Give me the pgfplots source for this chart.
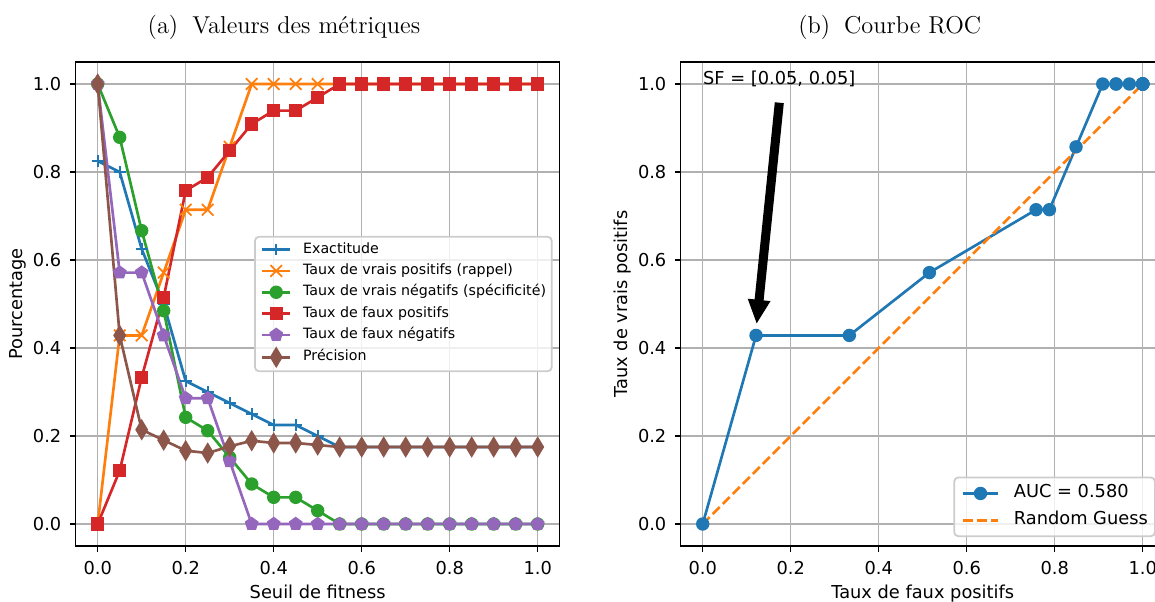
\documentclass[border=0pt]{standalone}
\usepackage{fontspec}
\usepackage{pgfplots}
\usepackage{pgfplotstable}
\pgfplotsset{compat=1.18}
\newfontfamily\djv{DejaVu Sans}
\definecolor{c1}{HTML}{1F77B4}
\definecolor{c2}{HTML}{FF7F0E}
\definecolor{c3}{HTML}{2CA02C}
\definecolor{c4}{HTML}{D62728}
\definecolor{c5}{HTML}{9467BD}
\definecolor{c6}{HTML}{8C564B}
\definecolor{gridc}{HTML}{B0B0B0}
\definecolor{legc}{HTML}{CCCCCC}
\newcommand{\tfont}{\djv\fontsize{8.9}{10.7}\selectfont}
\newcommand{\lfont}{\djv\fontsize{7.1}{8.5}\selectfont}

\pgfplotstableread{
x    acc   tpr    tnr    fpr    fnr    prec
0.00 0.825 0.0000 1.0000 0.0000 1.0000 1.0000
0.05 0.800 0.4286 0.8788 0.1212 0.5714 0.4286
0.10 0.625 0.4286 0.6667 0.3333 0.5714 0.2143
0.15 0.500 0.5714 0.4848 0.5152 0.4286 0.1905
0.20 0.325 0.7143 0.2424 0.7576 0.2857 0.1667
0.25 0.300 0.7143 0.2121 0.7879 0.2857 0.1613
0.30 0.275 0.8571 0.1515 0.8485 0.1429 0.1765
0.35 0.250 1.0000 0.0909 0.9091 0.0000 0.1892
0.40 0.225 1.0000 0.0606 0.9394 0.0000 0.1842
0.45 0.225 1.0000 0.0606 0.9394 0.0000 0.1842
0.50 0.200 1.0000 0.0303 0.9697 0.0000 0.1795
0.55 0.175 1.0000 0.0000 1.0000 0.0000 0.1750
0.60 0.175 1.0000 0.0000 1.0000 0.0000 0.1750
0.65 0.175 1.0000 0.0000 1.0000 0.0000 0.1750
0.70 0.175 1.0000 0.0000 1.0000 0.0000 0.1750
0.75 0.175 1.0000 0.0000 1.0000 0.0000 0.1750
0.80 0.175 1.0000 0.0000 1.0000 0.0000 0.1750
0.85 0.175 1.0000 0.0000 1.0000 0.0000 0.1750
0.90 0.175 1.0000 0.0000 1.0000 0.0000 0.1750
0.95 0.175 1.0000 0.0000 1.0000 0.0000 0.1750
1.00 0.175 1.0000 0.0000 1.0000 0.0000 0.1750
}\metrics

\pgfplotstableread{
fpr    tpr
0.0000 0.0000
0.1212 0.4286
0.3333 0.4286
0.5152 0.5714
0.7576 0.7143
0.7879 0.7143
0.8485 0.8571
0.9091 1.0000
0.9394 1.0000
0.9394 1.0000
0.9697 1.0000
1.0000 1.0000
1.0000 1.0000
1.0000 1.0000
1.0000 1.0000
1.0000 1.0000
1.0000 1.0000
1.0000 1.0000
1.0000 1.0000
1.0000 1.0000
1.0000 1.0000
}\roc

\pgfplotsset{
  base/.style={
    scale only axis, width=242pt, height=242pt,
    xmin=-0.05, xmax=1.05, ymin=-0.05, ymax=1.05,
    xtick={0,0.2,0.4,0.6,0.8,1}, ytick={0,0.2,0.4,0.6,0.8,1},
    xticklabels={0.0,0.2,0.4,0.6,0.8,1.0},
    yticklabels={0.0,0.2,0.4,0.6,0.8,1.0},
    tick pos=left, tick align=outside, major tick length=3.1pt,
    every tick/.style={black, line width=0.71pt},
    axis line style={line width=0.71pt},
    grid=major, major grid style={gridc, line width=0.71pt},
    ticklabel style={font=\tfont},
    xticklabel style={anchor=base, yshift=-11.15pt, inner sep=0pt},
    yticklabel style={anchor=east, xshift=-3.9pt, inner sep=0pt},
    every axis x label/.style={at={(axis description cs:0.5,-0.108)}, anchor=base, font=\tfont},
    every axis y label/.style={at={(axis description cs:-0.12,0.5)}, rotate=90, anchor=center, font=\tfont},
    legend cell align=left,
  },
  pl/.style={line width=1.33pt, color=#1, mark options={solid, line width=0.89pt, fill=#1, draw=#1, sharp corners}},
}

\begin{document}
\begin{tikzpicture}
\useasboundingbox (0,0) rectangle (577.5pt,300.5pt);
\begin{scope}
\clip (0,0) rectangle (577.5pt,300.5pt);

\node[anchor=base, font=\fontsize{12.2}{14}\selectfont, inner sep=0pt] at (142pt,283.85pt) {(a)\hspace{7pt}Valeurs des métriques};
\node[anchor=base, font=\fontsize{12.2}{14}\selectfont, inner sep=0pt] at (444.85pt,283.85pt) {(b)\hspace{7pt}Courbe ROC};

\begin{axis}[base, at={(37.85pt,27.5pt)}, anchor=south west,
  xlabel={Seuil de fitness}, ylabel={Pourcentage},
  legend style={font=\lfont, at={(axis description cs:0.9853,0.5)}, anchor=east,
    draw=legc, fill=white, fill opacity=0.8, text opacity=1, rounded corners=2pt, line width=0.89pt,
    inner xsep=2.84pt, inner ysep=2.9pt, row sep=3.55pt, column sep=5.7pt,
    nodes={inner sep=0pt, text height=5.3pt, text depth=1.8pt}},
  legend image code/.code={\draw[mark repeat=2,mark phase=2,#1] plot coordinates {(0pt,0pt) (7.1pt,0pt) (14.2pt,0pt)};},
  legend image post style={opacity=1},
]
\addplot[pl=c1, mark=+, mark size=2.9pt] table[x=x, y=acc] {\metrics};
\addlegendentry{Exactitude}
\addplot[pl=c2, mark=x, mark size=4.1pt] table[x=x, y=tpr] {\metrics};
\addlegendentry{Taux de vrais positifs (rappel)}
\addplot[pl=c3, mark=*, mark size=2.9pt] table[x=x, y=tnr] {\metrics};
\addlegendentry{Taux de vrais négatifs (spécificité)}
\addplot[pl=c4, mark=square*, mark size=2.9pt] table[x=x, y=fpr] {\metrics};
\addlegendentry{Taux de faux positifs}
\addplot[pl=c5, mark=pentagon*, mark size=3.1pt] table[x=x, y=fnr] {\metrics};
\addlegendentry{Taux de faux négatifs}
\addplot[pl=c6, mark=diamond*, mark size=4.1pt, mark options={xscale=0.8}] table[x=x, y=prec] {\metrics};
\addlegendentry{Précision}
\end{axis}

\begin{axis}[base, at={(340.35pt,27.5pt)}, anchor=south west,
  xlabel={Taux de faux positifs}, ylabel={Taux de vrais positifs},
  legend style={font=\tfont, at={(axis description cs:0.9816,0.0184)}, anchor=south east,
    draw=legc, fill=white, fill opacity=0.8, text opacity=1, rounded corners=2pt, line width=0.89pt,
    inner xsep=3.56pt, inner ysep=3.56pt, row sep=4.45pt, column sep=7.12pt,
    nodes={inner sep=0pt, text height=6.7pt, text depth=2.2pt}},
  legend image code/.code={\draw[mark repeat=2,mark phase=2,#1] plot coordinates {(0pt,0pt) (8.9pt,0pt) (17.8pt,0pt)};},
  legend image post style={opacity=1},
]
\addplot[pl=c1, mark=*, mark size=2.9pt] table[x=fpr, y=tpr] {\roc};
\addlegendentry{AUC = 0.580}
\addplot[line width=1.33pt, c2, dash pattern=on 4.94pt off 2.14pt] coordinates {(0,0) (1,1)};
\addlegendentry{Random Guess}
\fill[black] (axis cs:0.1639,0.9586) -- (axis cs:0.1843,0.9564) -- (axis cs:0.1384,0.5082) -- (axis cs:0.1541,0.5066) -- (axis cs:0.1227,0.4561) -- (axis cs:0.1023,0.5120) -- (axis cs:0.1180,0.5105) -- cycle;
\node[anchor=base west, inner sep=0pt, font=\tfont] at (axis cs:0,1) {SF = [0.05, 0.05]};
\end{axis}
\end{scope}
\end{tikzpicture}
\end{document}
